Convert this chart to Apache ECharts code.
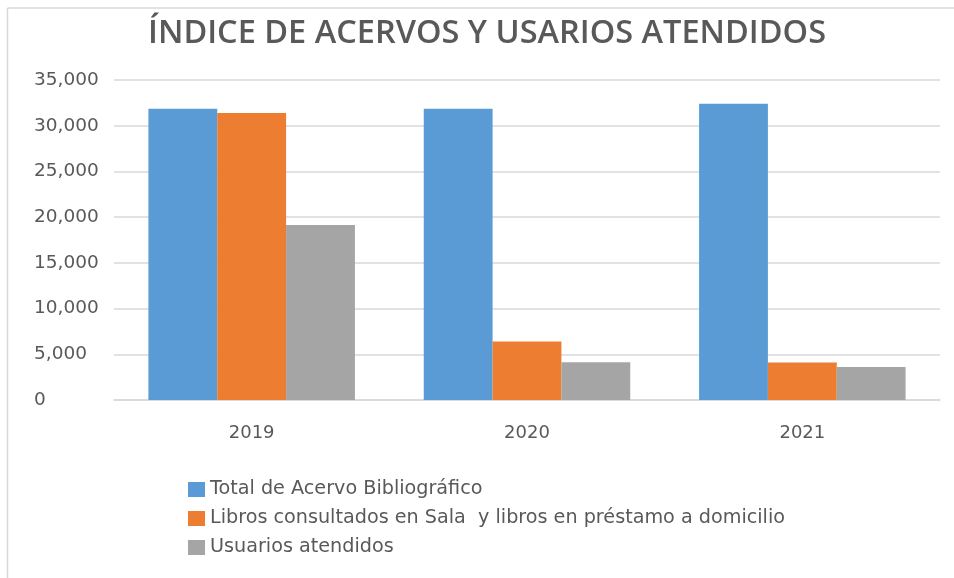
<!DOCTYPE html>
<html>
<head>
<meta charset="utf-8">
<script src="https://cdn.jsdelivr.net/npm/echarts@6/dist/echarts.min.js"></script>
<style>
html,body{margin:0;padding:0;background:#fff;}
#main{width:954px;height:578px;}
</style>
</head>
<body>
<div id="main"></div>
<script>
var years = ['2019', '2020', '2021'];
var acervo = [31850, 31850, 32400];      // Total de Acervo Bibliográfico
var libros = [31400, 6400, 4100];        // Libros consultados en Sala y libros en préstamo a domicilio
var usuarios = [19150, 4130, 3600];      // Usuarios atendidos
var yTicks = [0, 5000, 10000, 15000, 20000, 25000, 30000, 35000];

var seriesNames = [
    'Total de Acervo Bibliográfico',
    'Libros consultados en Sala  y libros en préstamo a domicilio',
    'Usuarios atendidos'
];
var colors = ['#5B9BD5', '#ED7D31', '#A5A5A5'];

var titleFont = '"Open Sans", "Noto Sans", sans-serif';
var font = '"DejaVu Sans", sans-serif';
var textGray = '#595959';

var chart = echarts.init(document.getElementById('main'));

function bar(name, data, color){
    return {
        name: name,
        type: 'bar',
        data: data,
        barGap: '0%',
        barCategoryGap: '25%',
        itemStyle: {color: color}
    };
}

chart.setOption({
    animation: false,
    color: colors,
    title: {
        text: 'ÍNDICE DE ACERVOS Y USARIOS ATENDIDOS',
        left: 482,
        top: 12,
        textAlign: 'center',
        textStyle: {
            fontFamily: titleFont,
            fontSize: 32.5,
            fontWeight: 600,
            color: textGray
        }
    },
    legend: {
        orient: 'vertical',
        left: 183,
        top: 475,
        icon: 'rect',
        itemWidth: 17,
        itemHeight: 15,
        itemGap: 10,
        textStyle: {fontFamily: font, fontSize: 19.2, color: textGray}
    },
    grid: {left: 114, right: 14, top: 80, bottom: 178},
    xAxis: {
        type: 'category',
        data: years,
        axisLine: {lineStyle: {color: '#D9D9D9', width: 1.5}},
        axisTick: {show: false},
        axisLabel: {margin: 24, fontFamily: font, fontSize: 18, color: textGray}
    },
    yAxis: {
        type: 'value',
        min: yTicks[0],
        max: yTicks[yTicks.length - 1],
        interval: 5000,
        axisLine: {show: false},
        axisTick: {show: false},
        splitLine: {lineStyle: {color: '#D9D9D9', width: 1.5}},
        axisLabel: {
            align: 'left',
            margin: 80,
            fontFamily: font,
            fontSize: 18.5,
            color: textGray,
            formatter: function(v){ return v.toLocaleString('en-US'); }
        }
    },
    graphic: [
        {type: 'line', shape: {x1: 7.5, y1: 8, x2: 954, y2: 8}, style: {stroke: '#D9D9D9', lineWidth: 1.5}},
        {type: 'line', shape: {x1: 7.5, y1: 8, x2: 7.5, y2: 578}, style: {stroke: '#D9D9D9', lineWidth: 1.5}}
    ],
    series: [
        bar(seriesNames[0], acervo, colors[0]),
        bar(seriesNames[1], libros, colors[1]),
        bar(seriesNames[2], usuarios, colors[2])
    ]
});
</script>
</body>
</html>
